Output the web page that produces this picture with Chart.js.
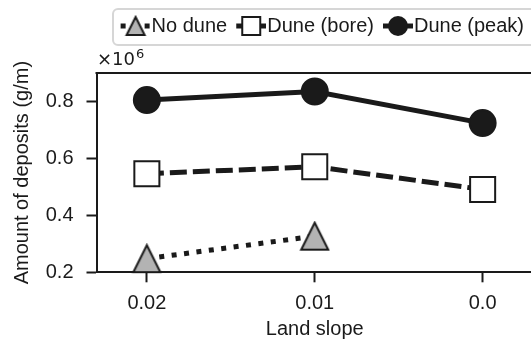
<!DOCTYPE html>
<html lang="en">
<head>
<meta charset="UTF-8" />
<title>Amount of deposits vs land slope</title>
<script src="https://cdn.jsdelivr.net/npm/chart.js"></script>
<style>
    html, body { margin: 0; padding: 0; background: #fff; }
    #wrap { width: 531px; height: 341px; overflow: hidden; position: relative; }
    #wrap canvas { position: absolute; left: 0; top: 0; }
</style>
</head>
<body>
<div id="wrap"><canvas id="chart" width="533" height="341"></canvas></div>
<script>
const landSlope = [0.02, 0.01, 0.0]
const xTickLabels = ["0.02", "0.01", "0.0"]
const yTicks = [0.2, 0.4, 0.6, 0.8]
// amount of deposits, x10^6 g/m
const noDune = [0.248, 0.327, null]
const duneBore = [0.546, 0.571, 0.491]
const dunePeak = [0.805, 0.835, 0.724]
const seriesNames = ["No dune", "Dune (bore)", "Dune (peak)"]

const ink = "#1a1a1a"
const grey = "#b3b3b3"

Chart.defaults.font.family = "'Liberation Sans', Arial, sans-serif"
Chart.defaults.font.size = 20
Chart.defaults.color = ink

function icon(w, h, draw) {
    const c = document.createElement("canvas")
    c.width = w
    c.height = h
    draw(c.getContext("2d"))
    return c
}

function triangle(ctx, cx, cy, half) {
    ctx.beginPath()
    ctx.moveTo(cx, cy - half)
    ctx.lineTo(cx - half, cy + half)
    ctx.lineTo(cx + half, cy + half)
    ctx.closePath()
    ctx.fillStyle = grey
    ctx.fill()
    ctx.lineWidth = 2
    ctx.strokeStyle = ink
    ctx.stroke()
}

// matplotlib style "^" marker (as tall as wide)
const triMarker = icon(31, 31, ctx => triangle(ctx, 15.5, 15.5, 13.5))

// legend handles: short line with marker, drawn in the right 30px of the image
function legendLine(ctx, dash) {
    ctx.strokeStyle = ink
    ctx.lineWidth = 5
    ctx.setLineDash(dash)
    ctx.beginPath()
    ctx.moveTo(9, 11)
    ctx.lineTo(39, 11)
    ctx.stroke()
    ctx.setLineDash([])
}
const legendIcons = [
    icon(39, 22, ctx => { legendLine(ctx, [5, 7]); triangle(ctx, 24, 11, 9) }),
    icon(39, 22, ctx => {
        legendLine(ctx, [17, 6])
        ctx.fillStyle = "#fff"
        ctx.fillRect(15, 2, 18, 18)
        ctx.lineWidth = 2
        ctx.strokeStyle = ink
        ctx.strokeRect(15, 2, 18, 18)
    }),
    icon(39, 22, ctx => {
        legendLine(ctx, [])
        ctx.beginPath()
        ctx.arc(24, 11, 10, 0, Math.PI * 2)
        ctx.fillStyle = ink
        ctx.fill()
    }),
]

const toPoints = vals => landSlope.map((x, i) => ({ x: x, y: vals[i] })).filter(p => p.y !== null)

const frame = {
    id: "frame",
    beforeInit(chart) {
        const fit = chart.legend.fit
        chart.legend.fit = function () {
            fit.bind(chart.legend)()
            this.height = 66
        }
    },
    afterDraw(chart) {
        const { ctx, chartArea: a } = chart
        ctx.save()
        // top and right spines
        ctx.strokeStyle = ink
        ctx.lineWidth = 2
        ctx.beginPath()
        ctx.moveTo(a.left - 1, a.top)
        ctx.lineTo(a.right, a.top)
        ctx.lineTo(a.right, a.bottom)
        ctx.stroke()
        // legend frame
        ctx.strokeStyle = "#d6d6d6"
        ctx.lineWidth = 2
        ctx.beginPath()
        ctx.roundRect(113, 9, 430, 36, 5)
        ctx.stroke()
        // offset text
        ctx.fillStyle = ink
        ctx.textBaseline = "alphabetic"
        ctx.font = "18px 'DejaVu Sans'"
        ctx.fillText("\u00d710", 97, 65)
        const w = ctx.measureText("\u00d710").width
        ctx.font = "13px 'DejaVu Sans'"
        ctx.fillText("6", 97 + w + 1, 58)
        ctx.restore()
    },
}

const axisGrid = { drawOnChartArea: false, drawTicks: true, tickLength: 10, tickWidth: 2, tickColor: ink }
const axisBorder = { display: true, color: ink, width: 2 }

new Chart(document.getElementById("chart"), {
    type: "line",
    data: {
        datasets: [
            {
                label: seriesNames[0],
                data: toPoints(noDune),
                borderColor: ink,
                borderWidth: 5,
                borderDash: [5, 7.5],
                pointStyle: triMarker,
                clip: false,
            },
            {
                label: seriesNames[1],
                data: toPoints(duneBore),
                borderColor: ink,
                borderWidth: 5,
                borderDash: [17, 6],
                pointStyle: "rect",
                pointRadius: 17.7,
                pointBackgroundColor: "#fff",
                pointBorderColor: ink,
                pointBorderWidth: 2,
                clip: false,
            },
            {
                label: seriesNames[2],
                data: toPoints(dunePeak),
                borderColor: ink,
                borderWidth: 5,
                pointStyle: "circle",
                pointRadius: 13,
                pointBackgroundColor: ink,
                pointBorderColor: ink,
                pointBorderWidth: 2,
                clip: false,
            },
        ],
    },
    options: {
        responsive: false,
        animation: false,
        devicePixelRatio: 1,
        layout: { autoPadding: false, padding: { top: 7, left: 0, right: 0, bottom: 0 } },
        plugins: {
            tooltip: { enabled: false },
            legend: {
                position: "top",
                align: "end",
                labels: {
                    usePointStyle: true,
                    pointStyleWidth: 21,
                    padding: 9,
                    color: ink,
                    font: { size: 20 },
                    generateLabels: chart =>
                        Chart.defaults.plugins.legend.labels
                            .generateLabels(chart)
                            .map((item, i) => ({ ...item, pointStyle: legendIcons[i] })),
                },
            },
        },
        scales: {
            x: {
                type: "linear",
                reverse: true,
                min: -0.003,
                max: 0.023,
                afterBuildTicks: s => { s.ticks = landSlope.map(v => ({ value: v })) },
                afterFit: s => {
                    s.height = 68.7
                    s.paddingLeft = 0
                    s.paddingRight = 0
                },
                ticks: {
                    callback: v => xTickLabels[landSlope.indexOf(v)],
                    padding: 9,
                    maxRotation: 0,
                    color: ink,
                },
                grid: axisGrid,
                border: axisBorder,
                title: { display: true, text: "Land slope", color: ink, padding: { top: 0, bottom: 0 } },
            },
            y: {
                min: 0.2,
                max: 0.9,
                afterBuildTicks: s => { s.ticks = yTicks.map(v => ({ value: v })) },
                afterFit: s => { s.width = 96.5 },
                ticks: { callback: v => v.toFixed(1), padding: 13, color: ink },
                grid: axisGrid,
                border: axisBorder,
                title: { display: true, text: "Amount of deposits (g/m)", color: ink, padding: { top: 10, bottom: 0 } },
            },
        },
    },
    plugins: [frame],
})
</script>
</body>
</html>
